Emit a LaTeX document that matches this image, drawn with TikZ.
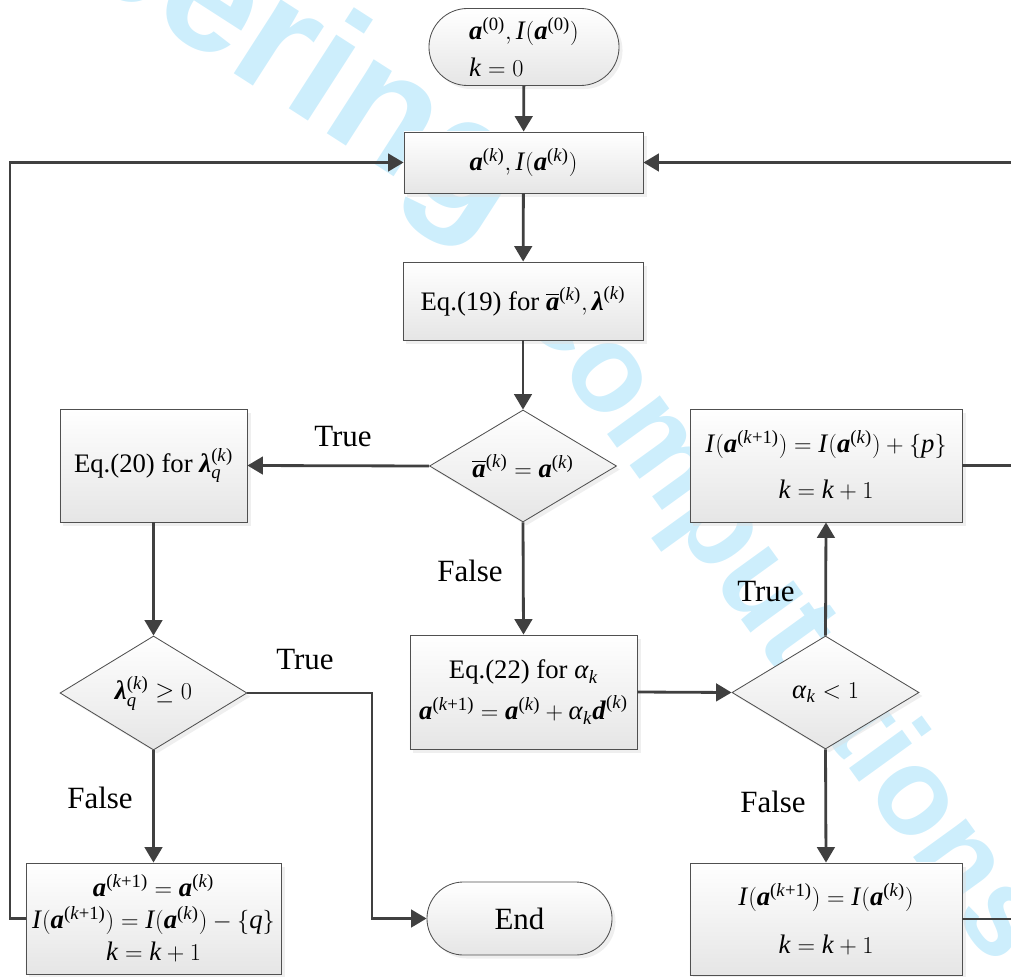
\documentclass[tikz,border=0pt]{standalone}
\usepackage{amsmath}
\usepackage{fontspec}
\setmainfont{Liberation Serif}
\newfontfamily\wmfont{Liberation Sans}
\usetikzlibrary{shapes.geometric,shapes.misc,arrows.meta,shadows,decorations.text}
\definecolor{linec}{RGB}{64,64,64}
\definecolor{bordc}{RGB}{80,80,80}
\definecolor{wmc}{RGB}{205,238,252}
\newcommand{\va}{\text{\textbf{\textit{a}}}}
\newcommand{\vd}{\text{\textbf{\textit{d}}}}
\newcommand{\vlam}{\text{\textbf{\textit{λ}}}}
\newcommand{\abar}{\overline{\va}}
\newcommand{\K}{^{\text{(\textit{k})}}}
\newcommand{\KK}{^{\text{(\textit{k}+1)}}}
\newcommand{\Zr}{^{\text{(0)}}}
\newcommand{\II}{\text{\textit{I}}}
\newcommand{\kk}{\text{\textit{k}}}
\newcommand{\alk}{\text{\textit{α}}_{\text{\textit{k}}}}
\newcommand{\wmfmtA}{\wmfont\bfseries\fontsize{118}{118}\selectfont}
\newcommand{\wmfmtB}{\wmfont\bfseries\fontsize{88}{88}\selectfont}
\begin{document}
\begin{tikzpicture}[x=0.025cm,y=-0.025cm,
  base/.style={draw=bordc,line width=0.6pt,top color=white,bottom color=black!10,
    drop shadow={shadow xshift=2.5pt,shadow yshift=-2.5pt,fill=black!12},
    font=\fontsize{19}{22}\selectfont,inner sep=0pt,align=center},
  procbox/.style={base,rectangle},
  termbox/.style={base,rounded rectangle},
  decbox/.style={base,diamond,aspect=1.65},
  arr/.style={draw=linec,line width=2pt,-{Triangle[length=11pt,width=12.5pt]}},
  plain/.style={draw=linec,line width=2pt},
  lbl/.style={font=\fontsize{22}{24}\selectfont}]
\useasboundingbox (0,0) rectangle (1011,977);
% watermark
\path[decorate,decoration={text along path,text color=wmc,
  text={|\wmfmtA|Engineering}}] (-318,-282) -- (560,283);
\path[decorate,decoration={text along path,text color=wmc,
  text={|\wmfmtB|Computations}}] (506,294) -- (1060,1060);
% nodes
\node[termbox,minimum width=4.75cm,minimum height=1.925cm,align=left] (start) at (524,47)
  {$\va\Zr,\II(\va\Zr)$\\[4pt]$\kk=0$};
\node[procbox,minimum width=5.975cm,minimum height=1.525cm] (b1) at (523.5,162.5)
  {$\va\K,\II(\va\K)$};
\node[procbox,minimum width=6cm,minimum height=1.95cm] (b2) at (523,301)
  {Eq.(19) for $\abar\K,\vlam\K$};
\node[decbox,minimum width=4.675cm,minimum height=2.8cm] (d1) at (523,466)
  {$\abar\K=\va\K$};
\node[procbox,minimum width=4.675cm,minimum height=2.825cm] (eq20) at (153.5,465.5)
  {Eq.(20) for $\vlam\K_{\text{\textit{q}}}$};
\node[decbox,minimum width=4.675cm,minimum height=2.85cm] (d2) at (153.5,693)
  {$\vlam\K_{\text{\textit{q}}}\geq 0$};
\node[procbox,minimum width=6.375cm,minimum height=2.775cm] (l3) at (153.5,918.5)
  {$\va\KK=\va\K$\\[1pt]$\II(\va\KK)=\II(\va\K)-\{\text{\textit{q}}\}$\\[1pt]$\kk=\kk+1$};
\node[termbox,minimum width=4.625cm,minimum height=1.825cm,font=\fontsize{22}{24}\selectfont] (end) at (519.5,918.5) {End};
\node[procbox,minimum width=5.675cm,minimum height=2.85cm] (eq22) at (523.5,692)
  {Eq.(22) for $\alk$\\[7pt]$\va\KK=\va\K+\alk\vd\K$};
\node[decbox,minimum width=4.675cm,minimum height=2.825cm] (d3) at (825.5,692.5)
  {$\alk<1$};
\node[procbox,minimum width=6.8cm,minimum height=2.825cm] (r1) at (826,465.5)
  {$\II(\va\KK)=\II(\va\K)+\{\text{\textit{p}}\}$\\[11pt]$\kk=\kk+1$};
\node[procbox,minimum width=6.8cm,minimum height=2.8cm] (r2) at (826,919)
  {$\II(\va\KK)=\II(\va\K)$\\[12pt]$\kk=\kk+1$};
% helper coordinates
\coordinate (c1) at (372,693);
\coordinate (c2) at (10,918.5);
\coordinate (c3) at (1030,465.5);
\coordinate (c4) at (1030,919);
% connectors
\draw[arr] (start) -- (b1);
\draw[arr] (b1) -- (b2);
\draw[arr] (b2) -- (d1);
\draw[arr] (d1.west) -- (eq20.east);
\draw[arr] (eq20) -- (d2);
\draw[arr] (d2.south) -- (l3.north);
\draw[arr] (d2.east) -- (c1) |- (end.west);
\draw[arr] (l3.west) -- (c2) |- (b1.west);
\draw[arr] (d1.south) -- (eq22.north);
\draw[arr] (eq22.east) -- (d3.west);
\draw[arr] (d3.north) -- (r1.south);
\draw[arr] (d3.south) -- (r2.north);
\draw[arr] (r1.east) -- (c3) |- (b1.east);
\draw[plain] (r2.east) -- (c4) -- (c3);
% labels
\node[lbl] (t1) at (343,437) {True};
\node[lbl] (t2) at (305,660) {True};
\node[lbl] (f1) at (100,798) {False};
\node[lbl] (f2) at (470,571) {False};
\node[lbl] (t3) at (766,592) {True};
\node[lbl] (f3) at (773,802) {False};
\end{tikzpicture}
\end{document}
